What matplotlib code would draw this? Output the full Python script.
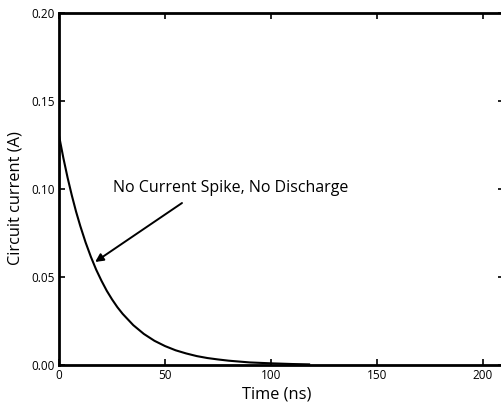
import matplotlib.pyplot as plt

# current decay
time_ns = [0, 2, 4, 6, 8, 10, 12.5, 15, 17.5, 20, 22.5, 25, 27.5, 30, 35, 40,
           45, 50, 55, 60, 65, 70, 75, 80, 90, 100, 110, 118]
current_a = [0.130, 0.1176, 0.1064, 0.0963, 0.0871, 0.0789, 0.0696, 0.0614,
             0.0541, 0.0478, 0.0421, 0.0372, 0.0328, 0.0290, 0.0226, 0.0176,
             0.0137, 0.0107, 0.0083, 0.0065, 0.0050, 0.0039, 0.0031, 0.0024,
             0.0014, 0.0009, 0.0005, 0.0003]

x_ticks = [0, 50, 100, 150, 200]
y_ticks = [0.00, 0.05, 0.10, 0.15, 0.20]
y_tick_labels = ["0.00", "0.05", "0.10", "0.15", "0.20"]

plt.rcParams["font.family"] = ["Open Sans", "DejaVu Sans"]

fig = plt.figure(figsize=(5.01, 4.05), dpi=100)
ax = fig.add_axes([0.118, 0.099, 0.888, 0.869])

ax.plot(time_ns, current_a, color="black", lw=1.5)

ax.set_xlim(0, 210)
ax.set_ylim(0, 0.20)
ax.set_xticks(x_ticks)
ax.set_yticks(y_ticks)
ax.set_yticklabels(y_tick_labels)
ax.tick_params(direction="in", top=True, right=True, length=4, width=1.2,
               labelsize=8.5, pad=3)
for sp in ax.spines.values():
    sp.set_linewidth(2)

ax.set_xlabel("Time (ns)", fontsize=11.8, labelpad=-1)
ax.xaxis.set_label_coords(0.49, -0.06)
ax.set_ylabel("Circuit current (A)", fontsize=11.8)
ax.yaxis.set_label_coords(-0.08, 0.474)

# label and arrow placed separately, as in the reference
ax.text(25.5, 0.1006, "No Current Spike, No Discharge",
        fontsize=11.5, va="center", ha="left")
ax.annotate("", xy=(17, 0.0585), xytext=(58, 0.092),
            arrowprops=dict(arrowstyle="-|>", color="black", lw=1.4,
                            mutation_scale=12, shrinkA=0, shrinkB=0))

fig.savefig("out.png", dpi=100)
